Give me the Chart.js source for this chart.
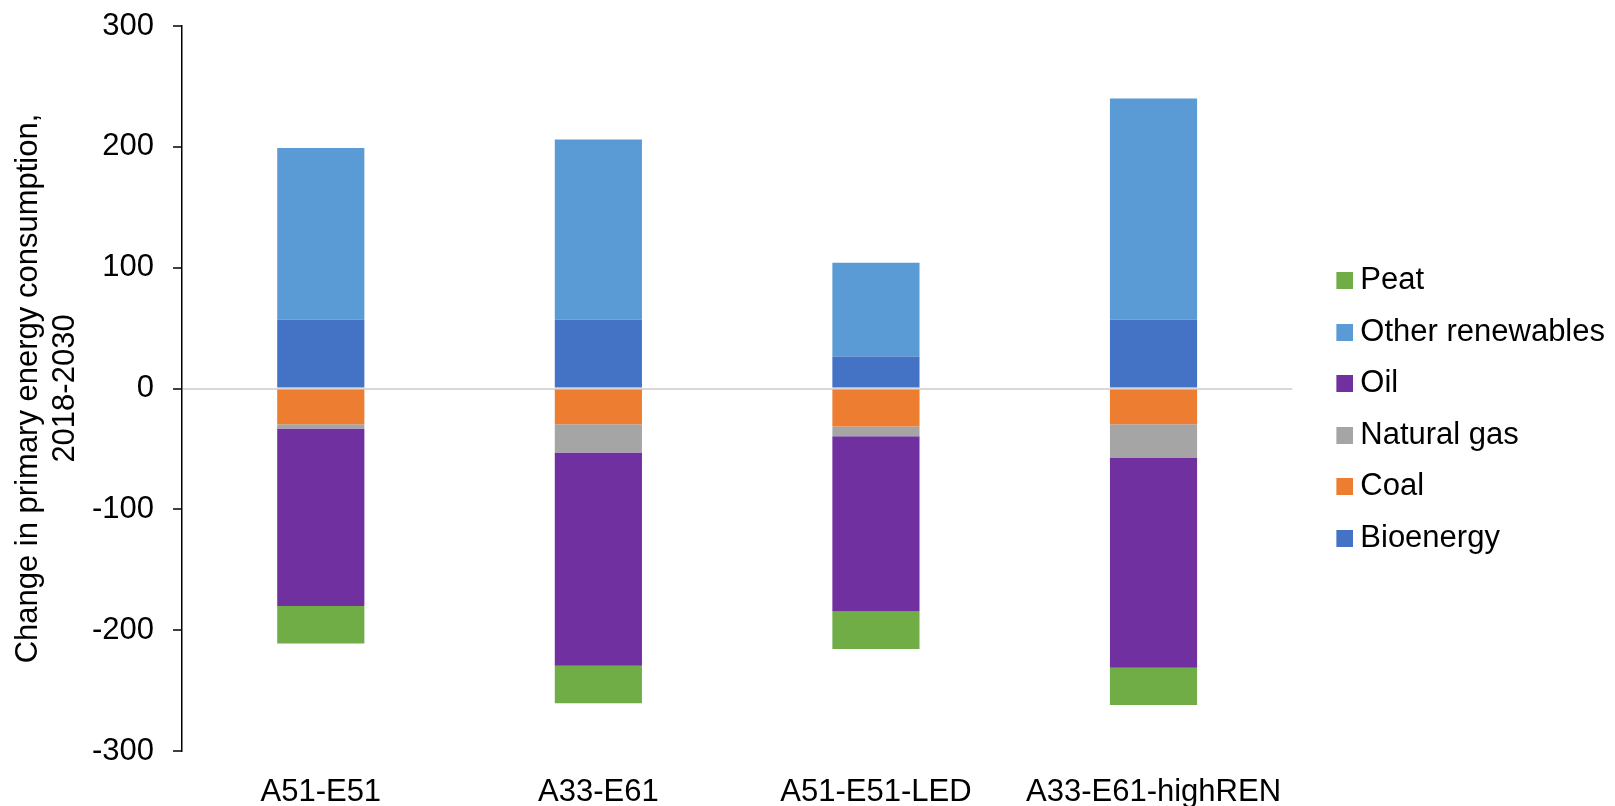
<!DOCTYPE html>
<html>
<head>
<meta charset="utf-8">
<title>Change in primary energy consumption, 2018-2030</title>
<script src="https://cdn.jsdelivr.net/npm/chart.js@4/dist/chart.umd.min.js"></script>
<style>
  html, body { margin: 0; padding: 0; background: #fff; }
  #wrap { width: 1615px; height: 806px; }
</style>
</head>
<body>
<div id="wrap"><canvas id="energyChart"></canvas></div>
<script>
// scenarios and per-source change in primary energy use, 2018-2030
const scenarios = ['A51-E51', 'A33-E61', 'A51-E51-LED', 'A33-E61-highREN'];
const bioenergy = [57, 57, 26.5, 57];
const coal = [-29.5, -29.5, -31.5, -29.5];
const naturalGas = [-3.5, -23.5, -8, -28];
const oil = [-147, -176.5, -145, -173.5];
const otherRenewables = [142, 149, 77.5, 183];
const peat = [-31, -31, -31, -31];
const yTicks = [-300, -200, -100, 0, 100, 200, 300];

const FONT = { family: '"Liberation Sans", Arial, sans-serif', size: 31 };

// small square swatch for the legend, drawn at the right end of a wider canvas
// so the label sits close to its colour box
function swatch(color) {
  const c = document.createElement('canvas');
  c.width = 49;
  c.height = 17;
  const g = c.getContext('2d');
  g.fillStyle = color;
  g.fillRect(32, 0, 17, 17);
  return c;
}

const series = [
  { label: 'Bioenergy', data: bioenergy, backgroundColor: '#4472C4' },
  { label: 'Coal', data: coal, backgroundColor: '#ED7D31' },
  { label: 'Natural gas', data: naturalGas, backgroundColor: '#A5A5A5' },
  { label: 'Oil', data: oil, backgroundColor: '#7030A0' },
  { label: 'Other renewables', data: otherRenewables, backgroundColor: '#5B9BD5' },
  { label: 'Peat', data: peat, backgroundColor: '#70AD47' }
];

new Chart(document.getElementById('energyChart').getContext('2d'), {
  type: 'bar',
  data: {
    labels: scenarios,
    datasets: series.map(s => ({
      label: s.label,
      data: s.data,
      backgroundColor: s.backgroundColor,
      borderWidth: 0,
      categoryPercentage: 1,
      barPercentage: 0.314
    }))
  },
  options: {
    responsive: true,
    maintainAspectRatio: false,
    animation: false,
    layout: { padding: { top: 13, right: 0, bottom: 0, left: 0 } },
    plugins: {
      tooltip: { enabled: false },
      legend: {
        position: 'right',
        align: 'center',
        reverse: true,
        labels: {
          color: '#000',
          font: FONT,
          padding: 20.5,
          usePointStyle: true,
          pointStyleWidth: 32,
          generateLabels(chart) {
            const items = Chart.defaults.plugins.legend.labels.generateLabels(chart);
            items.forEach(it => { it.pointStyle = swatch(it.fillStyle); });
            return items;
          }
        }
      }
    },
    scales: {
      x: {
        stacked: true,
        grid: { display: false, drawTicks: false },
        border: { display: false },
        ticks: { color: '#000', font: FONT, padding: 23 },
        afterFit(scale) { scale.height = 55; }
      },
      y: {
        stacked: true,
        min: -300,
        max: 300,
        afterBuildTicks(scale) { scale.ticks = yTicks.map(v => ({ value: v })); },
        grid: {
          drawOnChartArea: true,
          color: ctx => (ctx.tick && ctx.tick.value === 0 ? '#D9D9D9' : 'rgba(0,0,0,0)'),
          lineWidth: 2,
          tickColor: '#000',
          tickLength: 9,
          tickWidth: 1.5
        },
        border: { display: true, color: '#000', width: 1.5 },
        ticks: { color: '#000', font: FONT, padding: 19 },
        title: {
          display: true,
          text: ['Change in primary energy consumption,', '2018-2030'],
          color: '#000',
          font: FONT,
          padding: { top: 10, bottom: 0 }
        },
        afterFit(scale) {
          scale.width = 182;
          scale.paddingTop = 26;
        }
      }
    }
  }
});
</script>
</body>
</html>
